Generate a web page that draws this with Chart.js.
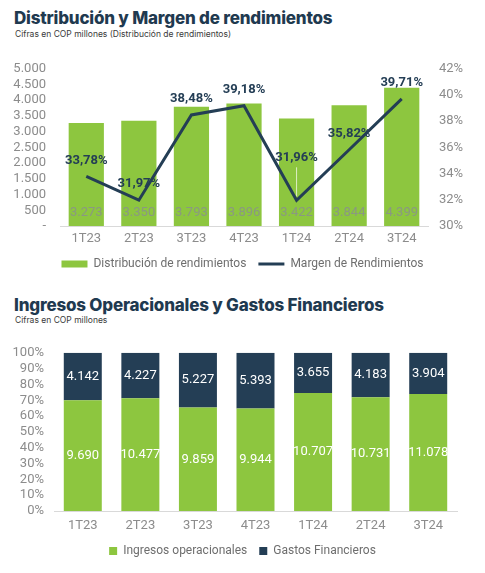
<!DOCTYPE html>
<html>
<head>
<meta charset="utf-8">
<script src="https://cdn.jsdelivr.net/npm/chart.js@4.4.1/dist/chart.umd.min.js"></script>
<style>
  body { margin: 0; background: #fff; width: 485px; height: 573px; overflow: hidden; position: relative; }
  .title { position: absolute; left: 14px; font-family: Inter, sans-serif; font-weight: 800; font-size: 17px; line-height: 20px; color: #1f3a50; white-space: nowrap; letter-spacing: -0.2px; }
  .sub { position: absolute; left: 15px; font-family: Inter, sans-serif; font-size: 8.5px; line-height: 10px; color: #3a3a3a; white-space: nowrap; }
  .box { position: absolute; left: 0; }
</style>
</head>
<body>
<div class="title" style="top:8px">Distribución y Margen de rendimientos</div>
<div class="sub" style="top:29px">Cifras en COP millones (Distribución de rendimientos)</div>
<div class="box" style="top:47px"><canvas id="chart1" width="485" height="233"></canvas></div>

<div class="title" style="top:295px">Ingresos Operacionales y Gastos Financieros</div>
<div class="sub" style="top:315px">Cifras en COP millones</div>
<div class="box" style="top:335px"><canvas id="chart2" width="485" height="232"></canvas></div>

<script>
// Datos
const trimestres = ['1T23', '2T23', '3T23', '4T23', '1T24', '2T24', '3T24'];
const distribucion = [3273, 3350, 3793, 3896, 3422, 3844, 4399];
const margen = [33.78, 31.97, 38.48, 39.18, 31.96, 35.82, 39.71];
const ingresos = [9690, 10477, 9859, 9944, 10707, 10731, 11078];
const gastos = [4142, 4227, 5227, 5393, 3655, 4183, 3904];

const VERDE = '#8dc63f';
const AZUL = '#243e55';
const GRIS = '#8c8c8c';
const FUENTE = 'Roboto, sans-serif';

function miles(n) {
    return String(Math.round(n)).replace(/\B(?=(\d{3})+(?!\d))/g, '.');
}

// Etiquetas de datos
const etiquetas1 = {
    id: 'etiquetas1',
    afterDatasetsDraw(chart) {
        const ctx = chart.ctx;
        ctx.save();
        ctx.textAlign = 'center';
        ctx.textBaseline = 'middle';
        // valores de barras
        ctx.font = '13px ' + FUENTE;
        ctx.fillStyle = '#8a9882';
        chart.getDatasetMeta(0).data.forEach((bar, i) => {
            ctx.fillText(miles(distribucion[i]), bar.x, bar.base - 13);
        });
        // valores de la línea
        ctx.font = 'bold 13px ' + FUENTE;
        ctx.fillStyle = AZUL;
        chart.getDatasetMeta(1).data.forEach((pt, i) => {
            let dy = -16;
            if (i === 4) {
                dy = -43;
                ctx.strokeStyle = 'rgba(255,255,255,0.7)';
                ctx.lineWidth = 1;
                ctx.beginPath();
                ctx.moveTo(pt.x, pt.y + dy + 10);
                ctx.lineTo(pt.x, pt.y - 4);
                ctx.stroke();
            }
            ctx.fillText(margen[i].toFixed(2).replace('.', ',') + '%', pt.x, pt.y + dy);
        });
        ctx.restore();
    }
};

const etiquetas2 = {
    id: 'etiquetas2',
    afterDatasetsDraw(chart) {
        const ctx = chart.ctx;
        ctx.save();
        ctx.textAlign = 'center';
        ctx.textBaseline = 'middle';
        ctx.font = '13px ' + FUENTE;
        ctx.fillStyle = '#ffffff';
        [ingresos, gastos].forEach((serie, d) => {
            chart.getDatasetMeta(d).data.forEach((bar, i) => {
                ctx.fillText(miles(serie[i]), bar.x, (bar.y + bar.base) / 2);
            });
        });
        ctx.restore();
    }
};

// Distribución y Margen de rendimientos
new Chart(document.getElementById('chart1').getContext('2d'), {
    type: 'bar',
    data: {
        labels: trimestres,
        datasets: [
            {
                label: 'Distribución de rendimientos',
                data: distribucion,
                backgroundColor: VERDE,
                yAxisID: 'y',
                order: 1,
                categoryPercentage: 1,
                barPercentage: 0.67,
                pointStyle: 'rect'
            },
            {
                type: 'line',
                label: 'Margen de Rendimientos',
                data: margen,
                borderColor: AZUL,
                backgroundColor: AZUL,
                borderWidth: 3,
                pointRadius: 0,
                tension: 0,
                yAxisID: 'y1',
                order: 0,
                pointStyle: 'line'
            }
        ]
    },
    options: {
        responsive: false,
        animation: false,
        layout: { padding: { top: 17, left: 0, right: 0, bottom: 0 } },
        plugins: {
            tooltip: { enabled: false },
            legend: {
                position: 'bottom',
                labels: {
                    usePointStyle: true,
                    pointStyleWidth: 26,
                    boxHeight: 7,
                    padding: 12,
                    color: '#6e6e6e',
                    font: { family: FUENTE, size: 12 },
                    sort: (a, b) => a.datasetIndex - b.datasetIndex
                }
            }
        },
        scales: {
            x: {
                grid: { display: false, drawTicks: false },
                border: { color: '#d9d9d9' },
                ticks: { color: GRIS, padding: 5, font: { family: FUENTE, size: 13 } },
                afterFit: s => { s.height = 20; }
            },
            y: {
                position: 'left',
                min: 0,
                max: 5000,
                grid: { display: false, drawTicks: false },
                border: { display: false },
                ticks: {
                    stepSize: 500,
                    autoSkip: false,
                    padding: 14,
                    color: GRIS,
                    font: { family: FUENTE, size: 13 },
                    callback: v => v === 0 ? '-' : miles(v)
                },
                afterFit: s => { s.width = 60; }
            },
            y1: {
                position: 'right',
                min: 30,
                max: 42,
                grid: { display: false, drawTicks: false },
                border: { display: false },
                ticks: {
                    stepSize: 2,
                    autoSkip: false,
                    padding: 11,
                    color: GRIS,
                    font: { family: FUENTE, size: 13 },
                    callback: v => v + '%'
                },
                afterFit: s => { s.width = 57; }
            }
        }
    },
    plugins: [etiquetas1]
});

// Ingresos Operacionales y Gastos Financieros (100% apilado)
const totales = ingresos.map((v, i) => v + gastos[i]);
new Chart(document.getElementById('chart2').getContext('2d'), {
    type: 'bar',
    data: {
        labels: trimestres,
        datasets: [
            {
                label: 'Ingresos operacionales',
                data: ingresos.map((v, i) => v / totales[i] * 100),
                backgroundColor: VERDE,
                categoryPercentage: 1,
                barPercentage: 0.66
            },
            {
                label: 'Gastos Financieros',
                data: gastos.map((v, i) => v / totales[i] * 100),
                backgroundColor: AZUL,
                categoryPercentage: 1,
                barPercentage: 0.66
            }
        ]
    },
    options: {
        responsive: false,
        animation: false,
        layout: { padding: { top: 16, left: 0, right: 0, bottom: 0 } },
        plugins: {
            tooltip: { enabled: false },
            legend: {
                position: 'bottom',
                labels: {
                    boxWidth: 8,
                    boxHeight: 8,
                    padding: 12,
                    color: '#6e6e6e',
                    font: { family: FUENTE, size: 12 }
                }
            }
        },
        scales: {
            x: {
                stacked: true,
                grid: { display: false, drawTicks: false },
                border: { color: '#d9d9d9' },
                ticks: { color: GRIS, padding: 7, font: { family: FUENTE, size: 13 } },
                afterFit: s => { s.height = 22; }
            },
            y: {
                stacked: true,
                min: 0,
                max: 100,
                grid: { display: false, drawTicks: false },
                border: { display: false },
                ticks: {
                    stepSize: 10,
                    autoSkip: false,
                    padding: 10,
                    color: GRIS,
                    font: { family: FUENTE, size: 13 },
                    callback: v => v + '%'
                },
                afterFit: s => { s.width = 54; }
            },
            // eje vacío a la derecha, solo para dejar margen
            derecha: {
                position: 'right',
                grid: { display: false, drawTicks: false },
                border: { display: false },
                ticks: { display: false },
                afterFit: s => { s.width = 28; }
            }
        }
    },
    plugins: [etiquetas2]
});
</script>
</body>
</html>
